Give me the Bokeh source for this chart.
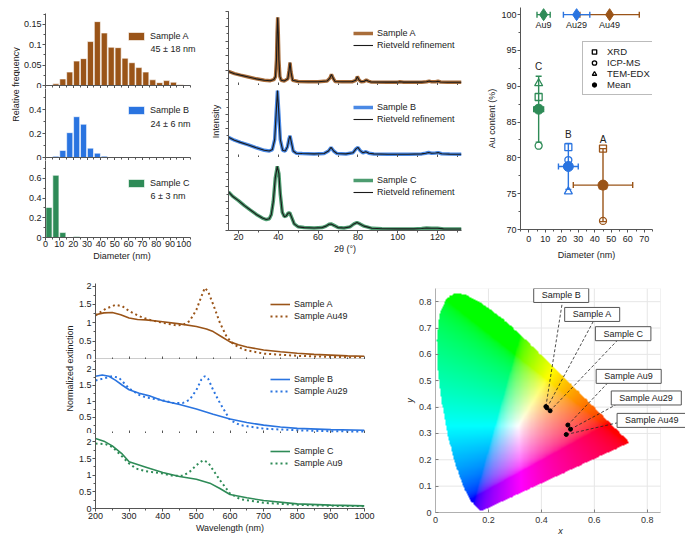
import numpy as np
from bokeh.plotting import figure
from bokeh.models import (Legend, LegendItem, Label, Whisker, TeeHead, ColumnDataSource,
                          Range1d, SingleIntervalTicker, FixedTicker, BoxAnnotation)
from bokeh.layouts import row, column
from bokeh.embed import file_html
from bokeh.resources import INLINE
from bokeh.core.properties import value

FONT = "Liberation Sans"
FS = "9px"
TXT = "#222222"
AX = "#555555"
C_A = "#9A5418"
C_B = "#2A74E0"
C_C = "#2E8B57"

# ---------------- panel a: size histograms ----------------
bin_centers = [2.5, 7.5, 12.5, 17.5, 22.5, 27.5, 32.5, 37.5, 42.5, 47.5,
               52.5, 57.5, 62.5, 67.5, 72.5, 77.5, 82.5, 87.5, 92.5, 97.5]
freq_A = [0.0, 0.004, 0.016, 0.033, 0.060, 0.066, 0.108, 0.157, 0.129, 0.094,
          0.093, 0.067, 0.056, 0.044, 0.033, 0.014, 0.007, 0.012, 0.008, 0.002]
freq_B = [0.0, 0.010, 0.059, 0.207, 0.340, 0.277, 0.078, 0.036, 0.011, 0.002,
          0.003, 0.0, 0.0, 0.0, 0.0, 0.0, 0.0, 0.0, 0.0, 0.0]
freq_C = [0.305, 0.630, 0.050, 0.005, 0.010, 0.0, 0.0, 0.0, 0.0, 0.0,
          0.0, 0.0, 0.0, 0.0, 0.0, 0.0, 0.0, 0.0, 0.0, 0.0]
size_labels = ["45 ± 18 nm", "24 ± 6 nm", "6 ± 3 nm"]

# ---------------- panel b: XRD ----------------
xrd_A_x = [15, 18, 21, 25, 29, 33, 36, 37.8, 38.6, 39.1, 39.4, 39.7, 40.0, 40.3, 40.8, 41.5, 43, 44.8,
           45.4, 45.9, 46.4, 47.2, 50, 55, 60, 64.5, 65.9, 66.7, 67.5, 68.5, 72, 77, 78.9, 79.7, 80.4,
           81.5, 83, 84.2, 85.1, 86.5, 95, 100, 101, 103, 112, 114.5, 115.8, 117, 119, 120.2, 121.5, 125, 132]
xrd_A_y = [0.19, 0.16, 0.14, 0.115, 0.09, 0.07, 0.065, 0.08, 0.12, 0.35, 0.70, 0.92, 0.70, 0.35, 0.12, 0.07, 0.06, 0.09,
           0.20, 0.31, 0.18, 0.07, 0.055, 0.05, 0.05, 0.06, 0.10, 0.15, 0.10, 0.055, 0.05, 0.05, 0.07, 0.12, 0.08,
           0.052, 0.055, 0.075, 0.06, 0.048, 0.045, 0.045, 0.05, 0.045, 0.045, 0.05, 0.06, 0.05, 0.05, 0.058, 0.047, 0.044, 0.043]
xrd_B_x = [15, 18, 21, 25, 29, 33, 35.5, 37, 38.2, 38.9, 39.6, 40.3, 41.0, 42.2, 43.5, 44.6, 45.4, 45.9, 46.5,
           47.5, 49, 52, 58, 63, 65.2, 66.5, 67.8, 69.5, 74, 77.5, 79, 80, 81, 82.5, 84, 85.5, 88, 95, 105,
           112, 114, 115.5, 117, 119, 120.3, 122, 126, 132]
xrd_B_y = [0.28, 0.24, 0.21, 0.175, 0.135, 0.10, 0.09, 0.11, 0.25, 0.60, 0.93, 0.60, 0.25, 0.10, 0.09, 0.15, 0.26, 0.30, 0.22,
           0.09, 0.06, 0.055, 0.05, 0.055, 0.09, 0.14, 0.09, 0.055, 0.05, 0.065, 0.12, 0.14, 0.10, 0.065, 0.08, 0.06, 0.05, 0.045, 0.045,
           0.05, 0.06, 0.07, 0.058, 0.062, 0.068, 0.052, 0.047, 0.045]
xrd_C_x = [15, 17, 20, 23, 26, 29, 32, 34, 35.5, 36.5, 37.5, 38.5, 39.5, 40.3, 41, 42, 43, 44, 45, 45.8, 46.7,
           48, 50, 53, 58, 62, 64, 65.5, 66.5, 68, 70, 73, 76, 78, 79.5, 81, 83, 84.5, 87, 92, 100, 108,
           112, 114.5, 117, 120, 123, 128, 132]
xrd_C_y = [0.53, 0.47, 0.41, 0.34, 0.28, 0.22, 0.17, 0.15, 0.16, 0.22, 0.40, 0.72, 0.88, 0.78, 0.50, 0.25, 0.19, 0.20, 0.24, 0.24, 0.18,
           0.09, 0.05, 0.04, 0.035, 0.04, 0.06, 0.085, 0.09, 0.07, 0.04, 0.035, 0.05, 0.09, 0.11, 0.09, 0.06, 0.05, 0.03, 0.025, 0.022, 0.022,
           0.028, 0.035, 0.03, 0.03, 0.022, 0.02, 0.02]

# ---------------- panel c: Au content ----------------
samples = ["A", "B", "C"]
sample_d = [45, 24, 6]
sample_derr = [18, 6, 3]
au_xrd = [81.3, 81.5, 88.5]
au_icp = [71.2, 79.7, 81.7]
au_tem = [76.0, 75.3, 90.4]
au_mean = [76.2, 78.8, 86.8]
au_err = [5.1, 3.2, 4.6]
ref_names = ["Au49", "Au29", "Au9"]
ref_d = [49, 29, 9]
ref_derr = [18, 8, 4]
ref_content = [100, 100, 100]
sample_colors = [C_A, C_B, C_C]

# ---------------- panel d: extinction spectra ----------------
wl_A = [200, 225, 250, 275, 300, 325, 350, 400, 450, 500, 530, 550, 575, 600, 625, 650, 700, 750, 800, 850, 900, 950, 1000]
ext_A = [1.22, 1.27, 1.28, 1.22, 1.13, 1.09, 1.08, 1.03, 0.97, 0.90, 0.83, 0.76, 0.62, 0.48, 0.40, 0.34, 0.26, 0.21, 0.17, 0.14, 0.12, 0.10, 0.09]
wl_Au49 = [200, 230, 260, 280, 300, 330, 360, 400, 440, 460, 480, 500, 515, 525, 535, 550, 570, 590, 610, 640, 700, 800, 900, 1000]
ext_Au49 = [1.20, 1.38, 1.49, 1.45, 1.32, 1.18, 1.08, 1.00, 0.93, 0.94, 1.05, 1.35, 1.72, 1.95, 1.85, 1.50, 1.00, 0.62, 0.42, 0.27, 0.16, 0.10, 0.07, 0.06]
wl_B = [200, 220, 240, 260, 280, 300, 330, 360, 400, 450, 500, 550, 600, 650, 700, 750, 800, 900, 1000]
ext_B = [1.78, 1.82, 1.78, 1.65, 1.50, 1.36, 1.25, 1.17, 1.02, 0.90, 0.76, 0.60, 0.45, 0.34, 0.26, 0.20, 0.16, 0.12, 0.10]
wl_Au29 = [200, 220, 250, 270, 300, 330, 350, 400, 430, 460, 480, 500, 515, 525, 535, 550, 570, 600, 630, 700, 800, 900, 1000]
ext_Au29 = [1.65, 1.70, 1.78, 1.73, 1.40, 1.20, 1.12, 1.03, 0.95, 0.95, 1.05, 1.35, 1.68, 1.78, 1.70, 1.35, 0.95, 0.42, 0.26, 0.15, 0.10, 0.07, 0.06]
wl_C = [200, 225, 250, 280, 300, 350, 400, 450, 500, 540, 570, 600, 650, 700, 800, 900, 1000]
ext_C = [2.10, 2.02, 1.88, 1.63, 1.40, 1.24, 1.08, 0.96, 0.88, 0.76, 0.60, 0.42, 0.32, 0.24, 0.14, 0.10, 0.08]
wl_Au9 = [200, 230, 250, 270, 300, 320, 350, 400, 430, 460, 480, 500, 520, 535, 550, 570, 600, 630, 700, 800, 900, 1000]
ext_Au9 = [1.95, 1.93, 1.85, 1.65, 1.35, 1.20, 1.12, 1.05, 0.98, 0.98, 1.10, 1.30, 1.45, 1.38, 1.15, 0.85, 0.45, 0.28, 0.17, 0.11, 0.08, 0.07]

# ---------------- panel e: chromaticity ----------------
locus_x = [0.1741, 0.1738, 0.1733, 0.1726, 0.1714, 0.1689, 0.1644, 0.1566, 0.1440, 0.1355, 0.1241, 0.1096,
           0.0913, 0.0687, 0.0454, 0.0235, 0.0082, 0.0039, 0.0139, 0.0389, 0.0743, 0.1142, 0.1547, 0.1929,
           0.2296, 0.2658, 0.3016, 0.3373, 0.3731, 0.4087, 0.4441, 0.4788, 0.5125, 0.5448, 0.5752, 0.6029,
           0.6270, 0.6482, 0.6658, 0.6915, 0.7079, 0.7190, 0.7260, 0.7300, 0.7334, 0.7347]
locus_y = [0.0050, 0.0049, 0.0048, 0.0048, 0.0051, 0.0069, 0.0109, 0.0177, 0.0297, 0.0399, 0.0578, 0.0868,
           0.1327, 0.2007, 0.2950, 0.4127, 0.5384, 0.6548, 0.7502, 0.8120, 0.8338, 0.8262, 0.8059, 0.7816,
           0.7543, 0.7243, 0.6923, 0.6589, 0.6245, 0.5896, 0.5547, 0.5202, 0.4866, 0.4544, 0.4242, 0.3965,
           0.3725, 0.3514, 0.3340, 0.3083, 0.2920, 0.2809, 0.2740, 0.2700, 0.2666, 0.2653]
cie_names = ["Sample B", "Sample A", "Sample C", "Sample Au9", "Sample Au29", "Sample Au49"]
cie_x = [0.417, 0.421, 0.433, 0.500, 0.510, 0.494]
cie_y = [0.402, 0.397, 0.386, 0.332, 0.316, 0.296]
e_xticks = [0, 0.2, 0.4, 0.6, 0.8]
e_yticks = [0, 0.1, 0.2, 0.3, 0.4, 0.5, 0.6, 0.7, 0.8]
# callout box (bottom-left) and leader-line anchor positions
box_x = [0.371, 0.488, 0.604, 0.607, 0.664, 0.686]
box_y = [0.797, 0.725, 0.652, 0.490, 0.408, 0.323]
lead_x = [0.479, 0.596, 0.686, 0.649, 0.680, 0.686]
lead_y = [0.797, 0.725, 0.652, 0.490, 0.408, 0.340]


def mkfig(w, h, xr, yr, lb, rb, tb, bb):
    p = figure(width=w, height=h, x_range=Range1d(*xr), y_range=Range1d(*yr),
               output_backend="svg", toolbar_location=None,
               min_border_left=lb, min_border_right=rb, min_border_top=tb, min_border_bottom=bb)
    p.grid.visible = False
    p.outline_line_color = None
    for ax in p.axis:
        ax.axis_line_color = AX
        ax.major_tick_line_color = AX
        ax.minor_tick_line_color = AX
        ax.major_label_text_font = FONT
        ax.major_label_text_font_size = FS
        ax.major_label_text_color = TXT
        ax.axis_label_text_font = FONT
        ax.axis_label_text_font_size = FS
        ax.axis_label_text_font_style = "normal"
        ax.axis_label_text_color = TXT
        ax.major_tick_in = 0
        ax.major_tick_out = 3
        ax.minor_tick_in = 0
        ax.minor_tick_out = 2
        ax.major_label_standoff = 1
        ax.axis_label_standoff = 1
    return p


def blank_fig(w, h):
    p = figure(width=w, height=h, x_range=Range1d(0, 1), y_range=Range1d(0, 1),
               output_backend="svg", toolbar_location=None, x_axis_type=None, y_axis_type=None,
               min_border_left=0, min_border_right=0, min_border_top=0, min_border_bottom=0)
    p.grid.visible = False
    p.outline_line_color = None
    return p


def hide_labels(ax, inward=False):
    ax.major_label_text_font_size = "0px"
    ax.major_label_text_color = None
    ax.major_label_standoff = 0
    if inward:
        ax.major_tick_in, ax.major_tick_out = 3, 0
        ax.minor_tick_in, ax.minor_tick_out = 2, 0


def mk_legend(items, loc, gw=20, gh=12, lh=12):
    return Legend(items=items, location=loc, padding=0, margin=0, spacing=0,
                  glyph_width=gw, glyph_height=gh, label_height=lh, label_standoff=4,
                  border_line_color=None, background_fill_alpha=0,
                  label_text_font=FONT, label_text_font_size=FS, label_text_color=TXT)


def letter(p, txt, x, y):
    p.add_layout(Label(x=x, y=y, x_units="screen", y_units="screen", text=txt,
                       text_font=FONT, text_font_size="11px", text_font_style="bold",
                       text_color="black", text_baseline="top", text_align="left"))


def vlabel(p, txt, x, y):
    p.add_layout(Label(x=x, y=y, x_units="screen", y_units="screen", text=txt, angle=np.pi / 2,
                       text_font=FONT, text_font_size=FS, text_color=TXT,
                       text_baseline="middle", text_align="center"))


# ================= panel a =================
lab_a = blank_fig(20, 270)
vlabel(lab_a, "Relative frequency", 15, 145)
letter(lab_a, "a", 1, 265)

a_specs = [
    (88, 0.177, 13, 0, freq_A, C_A, "Sample A", size_labels[0], (81, 44), 37, [0, 0.05, 0.1, 0.15]),
    (72, 0.575, 0, 0, freq_B, C_B, "Sample B", size_labels[1], (81, 42), 34, [0, 0.2, 0.4]),
    (110, 0.78, 0, 33, freq_C, C_C, "Sample C", size_labels[2], (81, 49), 42, [0, 0.2, 0.4, 0.6]),
]
a_figs = []
for i, (h, ytop, tb, bb, fr, col, name, sl, loc, sly, yt) in enumerate(a_specs):
    # frame runs to the canvas edge so the legend text fits; the axis line stops at 105
    p = mkfig(180, h, (0, 110.6), (0, ytop), 22, 2, tb, bb)
    r = p.vbar(x=bin_centers, top=fr, width=4.4, fill_color=col, line_color="white", line_width=0.6)
    p.xaxis.ticker = SingleIntervalTicker(interval=10, num_minor_ticks=2)
    p.xaxis.bounds = (0, 105)
    p.yaxis.ticker = FixedTicker(ticks=yt, minor_ticks=[v + (yt[1] - yt[0]) / 2 for v in yt])
    if i < 2:
        hide_labels(p.xaxis[0])
    else:
        p.xaxis.axis_label = "Diameter (nm)"
        p.xaxis.major_label_standoff = 0
    p.add_layout(mk_legend([LegendItem(label=name, renderers=[r])], loc, gw=20, gh=10, lh=10))
    p.add_layout(Label(x=105, y=sly, x_units="screen", y_units="screen", text=sl,
                       text_font=FONT, text_font_size=FS, text_color=TXT, text_baseline="middle"))
    a_figs.append(p)

# ================= panel b =================
b_specs = [
    (85, 11, 0, xrd_A_x, xrd_A_y, C_A, "Sample A", (125, 34)),
    (72, 0, 0, xrd_B_x, xrd_B_y, C_B, "Sample B", (125, 32)),
    (113, 0, 40, xrd_C_x, xrd_C_y, C_C, "Sample C", (125, 32)),
]
b_figs = []
for i, (h, tb, bb, xx, yy, col, name, loc) in enumerate(b_specs):
    p = mkfig(278, h, (15, 132), (0, 1), 28, 17, tb, bb)
    r1 = p.line(xx, yy, line_color=col, line_width=3.5, line_alpha=0.85)
    r2 = p.line(xx, yy, line_color="#1a1a1a", line_width=1.1)
    p.xaxis.ticker = SingleIntervalTicker(interval=20, num_minor_ticks=2)
    p.yaxis.ticker = SingleIntervalTicker(interval=0.2, num_minor_ticks=2)
    hide_labels(p.yaxis[0])
    p.yaxis.axis_label_standoff = 5
    if i < 2:
        hide_labels(p.xaxis[0], inward=True)
    else:
        p.xaxis.axis_label = "2θ (°)"
        p.xaxis.major_label_standoff = 0
    if i == 1:
        p.yaxis.axis_label = "Intensity"
    p.add_layout(mk_legend([LegendItem(label=name, renderers=[r1]),
                            LegendItem(label="Rietveld refinement", renderers=[r2])], loc))
    b_figs.append(p)
letter(b_figs[0], "b", -20, 82)

# ================= panel c =================
pc = mkfig(207, 270, (-5, 75), (70, 101), 42, 33, 7, 41)
pc.xaxis.ticker = SingleIntervalTicker(interval=10, num_minor_ticks=2)
pc.yaxis.ticker = SingleIntervalTicker(interval=5, num_minor_ticks=2)
pc.xaxis.axis_label = "Diameter (nm)"
pc.yaxis.axis_label = "Au content (%)"
pc.xaxis.major_label_standoff = 3
pc.xaxis.axis_label_standoff = 5

for i in range(3):
    col = [C_A, C_B, C_C][i]
    src = ColumnDataSource(dict(y=[ref_content[i]], lo=[ref_d[i] - ref_derr[i]], hi=[ref_d[i] + ref_derr[i]]))
    w = Whisker(source=src, base="y", lower="lo", upper="hi", dimension="width",
                line_color=col, line_width=1.4,
                lower_head=TeeHead(size=6, line_color=col, line_width=1.4),
                upper_head=TeeHead(size=6, line_color=col, line_width=1.4))
    w.level = "underlay"
    pc.add_layout(w)
    pc.scatter(x=[ref_d[i]], y=[ref_content[i]], marker="diamond", size=12,
               fill_color=col, line_color=col)
pc.text(x=ref_d, y=ref_content, text=ref_names, y_offset=5, text_align="center", text_baseline="top",
        text_font=value(FONT), text_font_size=value(FS), text_color=TXT)

for i in range(3):
    col = sample_colors[i]
    src_v = ColumnDataSource(dict(x=[sample_d[i]], lo=[au_mean[i] - au_err[i]], hi=[au_mean[i] + au_err[i]]))
    src_h = ColumnDataSource(dict(y=[au_mean[i]], lo=[sample_d[i] - sample_derr[i]], hi=[sample_d[i] + sample_derr[i]]))
    for src, base, dim in ((src_v, "x", "height"), (src_h, "y", "width")):
        w = Whisker(source=src, base=base, lower="lo", upper="hi", dimension=dim,
                    line_color=col, line_width=1.4,
                    lower_head=TeeHead(size=6, line_color=col, line_width=1.4),
                    upper_head=TeeHead(size=6, line_color=col, line_width=1.4))
        w.level = "underlay"
        pc.add_layout(w)

csrc = ColumnDataSource(dict(d=sample_d, xrd=au_xrd, icp=au_icp, tem=au_tem, mean=au_mean,
                             top=[m + e for m, e in zip(au_mean, au_err)], name=samples, col=sample_colors))
pc.scatter("d", "mean", source=csrc, marker="circle", size=10, fill_color="col", line_color="col")
pc.scatter("d", "xrd", source=csrc, marker="square", size=7, fill_color=None, line_color="col", line_width=1.3)
pc.scatter("d", "icp", source=csrc, marker="circle", size=7, fill_color=None, line_color="col", line_width=1.3)
pc.scatter("d", "tem", source=csrc, marker="triangle", size=8, fill_color=None, line_color="col", line_width=1.3)
pc.text("d", "top", text="name", source=csrc, y_offset=-4, text_align="center", text_baseline="bottom",
        text_font=value(FONT), text_font_size=value("10px"), text_color=TXT)

# legend glyph renderers (hidden copies of the data in black)
lg_sq = pc.scatter(x=sample_d, y=au_xrd, marker="square", size=7, fill_color=None, line_color="black", line_width=1.3, visible=False)
lg_ci = pc.scatter(x=sample_d, y=au_icp, marker="circle", size=7, fill_color=None, line_color="black", line_width=1.3, visible=False)
lg_tr = pc.scatter(x=sample_d, y=au_tem, marker="triangle", size=8, fill_color=None, line_color="black", line_width=1.3, visible=False)
lg_me = pc.scatter(x=sample_d, y=au_mean, marker="circle", size=10, fill_color="black", line_color="black", visible=False)
legc = Legend(items=[LegendItem(label="XRD", renderers=[lg_sq]), LegendItem(label="ICP-MS", renderers=[lg_ci]),
                     LegendItem(label="TEM-EDX", renderers=[lg_tr]), LegendItem(label="Mean", renderers=[lg_me])],
              location=(62, 134), padding=4, margin=0, spacing=0, glyph_width=14, glyph_height=11,
              label_height=11, label_standoff=6, border_line_color="#777777", border_line_width=1,
              background_fill_color="white", background_fill_alpha=1, inactive_fill_alpha=0,
              label_text_font=FONT, label_text_font_size="9.5px", label_text_color=TXT)
pc.add_layout(legc)
letter(pc, "c", -38, 226)

# ================= panel d =================
lab_d = blank_fig(75, 269)
vlabel(lab_d, "Normalized extinction", 69, 144)
letter(lab_d, "d", 64, 263)

d_specs = [
    (89, 13, 0, 2.07, wl_A, ext_A, wl_Au49, ext_Au49, C_A, "Sample A", "Sample Au49", (175, 37)),
    (74, 0, 0, 2.3, wl_B, ext_B, wl_Au29, ext_Au29, C_B, "Sample B", "Sample Au29", (175, 36)),
    (106, 0, 31, 2.25, wl_C, ext_C, wl_Au9, ext_Au9, C_C, "Sample C", "Sample Au9", (175, 39)),
]
d_figs = []
for i, (h, tb, bb, ytop, x1, y1, x2, y2, col, n1, n2, loc) in enumerate(d_specs):
    p = mkfig(325, h, (200, 1000), (0, ytop), 19, 36, tb, bb)
    r1 = p.line(x1, y1, line_color=col, line_width=1.6)
    r2 = p.line(x2, y2, line_color=col, line_width=2, line_dash="2 3")
    p.xaxis.ticker = SingleIntervalTicker(interval=100, num_minor_ticks=2)
    p.yaxis.ticker = SingleIntervalTicker(interval=0.5, num_minor_ticks=2)
    if i < 2:
        hide_labels(p.xaxis[0], inward=True)
        p.xaxis.axis_line_color = "#9a9a9a" if i == 0 else "#333333"
        p.xaxis.axis_line_width = 2 if i == 0 else 1
    else:
        p.xaxis.axis_label = "Wavelength (nm)"
        p.xaxis.major_label_standoff = 1
    p.add_layout(mk_legend([LegendItem(label=n1, renderers=[r1]), LegendItem(label=n2, renderers=[r2])], loc))
    d_figs.append(p)

# ================= panel e =================
# frame extends to the right edge of the canvas so the call-out boxes fit; axis stops at 0.85
pe = mkfig(285, 269, (0, 0.85 * 250 / 225), (0, 0.85), 35, 0, 18, 27)
pe.xaxis.ticker = FixedTicker(ticks=e_xticks)
pe.yaxis.ticker = FixedTicker(ticks=e_yticks)
pe.xaxis.bounds = (0, 0.85)
for ax in pe.axis:
    ax.axis_line_color = "#b0b0b0"
    ax.major_tick_line_color = "#808080"
    ax.major_tick_in, ax.major_tick_out = 3, 0
    ax.minor_tick_line_color = None
    ax.major_label_text_color = "#333333"
    ax.axis_label_text_font_style = "italic"
    ax.major_label_standoff = 4
pe.xaxis.axis_label = "x"
pe.yaxis.axis_label = "y"
pe.axis[0].axis_label_standoff = 0
# grid lines limited to the plotting box
pe.segment(x0=e_xticks, y0=[0] * len(e_xticks), x1=e_xticks, y1=[0.85] * len(e_xticks),
           line_color="#e6e6e6", line_width=1)
pe.segment(x0=[0] * len(e_yticks), y0=e_yticks, x1=[0.85] * len(e_yticks), y1=e_yticks,
           line_color="#e6e6e6", line_width=1)
pe.add_layout(BoxAnnotation(left=0, right=0.85, bottom=0, top=0.85, fill_alpha=0,
                            line_color="#d0d0d0", line_width=1, level="underlay"))

N = 420
gx = np.linspace(0, 0.85, N)
gy = np.linspace(0, 0.85, N)
GX, GY = np.meshgrid(gx, gy)
poly = list(zip(locus_x, locus_y))
mask = np.zeros(GX.shape, dtype=bool)
j = len(poly) - 1
for k in range(len(poly)):
    xi, yi = poly[k]
    xj, yj = poly[j]
    cond = ((yi > GY) != (yj > GY)) & (GX < (xj - xi) * (GY - yi) / (yj - yi + 1e-12) + xi)
    mask ^= cond
    j = k
Ys = np.maximum(GY, 1e-4)
Xv = GX / Ys
Zv = (1 - GX - GY) / Ys
R = 3.2406 * Xv - 1.5372 - 0.4986 * Zv
G = -0.9689 * Xv + 1.8758 + 0.0415 * Zv
B = 0.0557 * Xv - 0.2040 + 1.0570 * Zv
rgb = np.clip(np.stack([R, G, B], axis=-1), 0, None)
mx = rgb.max(axis=-1, keepdims=True)
mx[mx == 0] = 1
rgb = rgb / mx
rgb = np.where(rgb <= 0.0031308, 12.92 * rgb, 1.055 * np.power(rgb, 1 / 2.4) - 0.055)
img = np.zeros((N, N), dtype=np.uint32)
view = img.view(dtype=np.uint8).reshape((N, N, 4))
view[..., 0] = (rgb[..., 0] * 255).astype(np.uint8)
view[..., 1] = (rgb[..., 1] * 255).astype(np.uint8)
view[..., 2] = (rgb[..., 2] * 255).astype(np.uint8)
view[..., 3] = np.where(mask, 255, 0).astype(np.uint8)
pe.image_rgba(image=[img], x=0, y=0, dw=0.85, dh=0.85)

pe.segment(x0=cie_x, y0=cie_y, x1=lead_x, y1=lead_y, line_color="#222222", line_width=0.8, line_dash="3 2")
pe.scatter(x=cie_x, y=cie_y, size=4, fill_color="black", line_color="black")
for nm, bx, by in zip(cie_names, box_x, box_y):
    pe.add_layout(Label(x=bx, y=by, text=nm, text_font=FONT, text_font_size=FS, text_color=TXT,
                        text_align="left", text_baseline="bottom",
                        background_fill_color="white", background_fill_alpha=1,
                        border_line_color="#555555", border_line_width=1,
                        padding=dict(left=8, right=8, top=2, bottom=2)))
letter(pe, "e", -36, 234)

layout = column(row(lab_a, column(*a_figs), column(*b_figs), pc),
                row(lab_d, column(*d_figs), pe))
open("out.html", "w").write(file_html(layout, INLINE, title="figure"))
